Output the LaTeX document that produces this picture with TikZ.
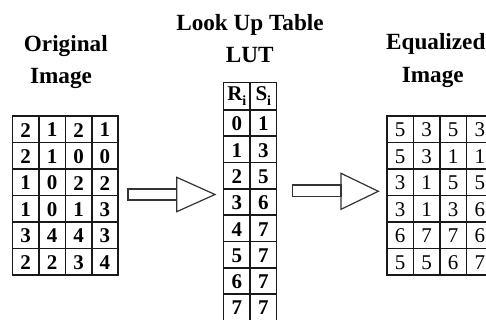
\documentclass[tikz,border=0pt]{standalone}
\usepackage{fontspec}
\setmainfont{Liberation Serif}
\begin{document}
\begin{tikzpicture}[x=1pt,y=-1pt,
  gridline/.style={line width=1.6pt, black!90, line cap=rect},
  arrowline/.style={line width=1.2pt, black!80, line join=miter},
  title/.style={font={\fontsize{23.2}{28}\selectfont\bfseries}, anchor=base, inner sep=0pt},
  digit/.style={font={\fontsize{21}{24}\selectfont\bfseries}, inner sep=0pt},
  digitr/.style={font={\fontsize{21}{24}\selectfont}, inner sep=0pt}]
\useasboundingbox (0,0) rectangle (486,320);
\fill[white] (0,0) rectangle (486,320);
\clip (0,0) rectangle (486,320);

% titles
\node[title] (t1) at (65.8,52) {Original};
\node[title] (t2) at (61,83.3) {Image};
\node[title] (t3) at (250,30.5) {Look Up Table};
\node[title] (t4) at (249.7,63) {LUT};
\node[title] (t5) at (435.8,49.5) {Equalized};
\node[title] (t6) at (432.8,83) {Image};

% left table
\foreach \i in {0,...,4} \draw[gridline] ({12.5+26.4*\i},116) -- ({12.5+26.4*\i},275);
\foreach \j in {0,...,6} \draw[gridline] (12.5,{116+26.5*\j}) -- (118.1,{116+26.5*\j});
\foreach \row [count=\r from 0] in {{2,1,2,1},{2,1,0,0},{1,0,2,2},{1,0,1,3},{3,4,4,3},{2,2,3,4}} {
  \foreach \v [count=\c from 0] in \row {
    \node[digit] (L-\r-\c) at ({12.5+26.4*(\c+0.5)},{116+26.5*(\r+0.5)+0.8}) {\v};
  }
}

% LUT
\foreach \x in {223.5,250,276.5} \draw[gridline] (\x,82.7) -- (\x,326);
\draw[gridline] (223.5,82.7) -- (276.5,82.7);
\foreach \k in {0,...,7} \draw[gridline] (223.5,{110+26.3*\k}) -- (276.5,{110+26.3*\k});
\node[digit, anchor=base] (Rh) at (236.8,100.5) {R\raisebox{-5pt}{\fontsize{14}{14}\selectfont i}};
\node[digit, anchor=base] (Sh) at (263.3,100.5) {S\raisebox{-5pt}{\fontsize{14}{14}\selectfont i}};
\foreach \a/\b [count=\k from 0] in {0/1,1/3,2/5,3/6,4/7,5/7,6/7,7/7} {
  \node[digit] (R-\k) at (236.8,{110+26.3*(\k+0.5)+0.8}) {\a};
  \node[digit] (S-\k) at (263.3,{110+26.3*(\k+0.5)+0.8}) {\b};
}

% right table
\foreach \i in {0,...,4} \draw[gridline] ({386.7+26.6*\i},116) -- ({386.7+26.6*\i},275);
\foreach \j in {0,...,6} \draw[gridline] (386.7,{116+26.5*\j}) -- (493.1,{116+26.5*\j});
\foreach \row [count=\r from 0] in {{5,3,5,3},{5,3,1,1},{3,1,5,5},{3,1,3,6},{6,7,7,6},{5,5,6,7}} {
  \foreach \v [count=\c from 0] in \row {
    \node[digitr] (E-\r-\c) at ({386.7+26.6*(\c+0.5)},{116+26.5*(\r+0.5)+0.8}) {\v};
  }
}

% block arrows
\coordinate (a1s) at (128,189);
\coordinate (a1e) at (176.7,200);
\coordinate (a1t) at (176.7,177.3);
\coordinate (a1p) at (215,194.5);
\coordinate (a1b) at (176.7,211.7);
\draw[arrowline] (a1s) rectangle (a1e);
\draw[arrowline] (a1t) -- (a1p) -- (a1b) -- cycle;

\coordinate (a2s) at (292.3,185);
\coordinate (a2e) at (341,196.7);
\coordinate (a2t) at (341,173.3);
\coordinate (a2p) at (378.3,191.3);
\coordinate (a2b) at (341,209.3);
\draw[arrowline] (a2s) rectangle (a2e);
\draw[arrowline] (a2t) -- (a2p) -- (a2b) -- cycle;
\end{tikzpicture}
\end{document}
